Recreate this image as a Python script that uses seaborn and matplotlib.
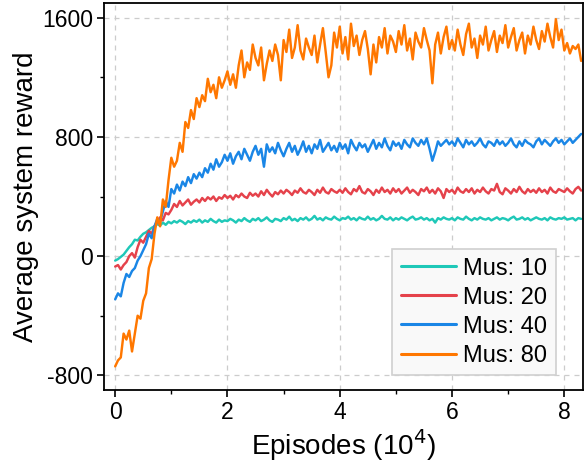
import matplotlib
matplotlib.use("Agg")
import matplotlib.pyplot as plt
import seaborn as sns
import numpy as np
import pandas as pd
from matplotlib.ticker import MultipleLocator

# episodes in units of 10^4, sampled every 0.05
episodes = np.round(np.arange(167) * 0.05, 2)

mus_10 = [
    -30, -20, -5, 10, 35, 60, 80, 110, 105, 130,
    150, 160, 175, 190, 200, 215, 205, 225, 210, 230,
    220, 235, 225, 240, 230, 215, 235, 225, 240, 230,
    245, 225, 240, 230, 250, 235, 225, 245, 230, 240,
    235, 250, 240, 225, 245, 235, 255, 240, 230, 250,
    240, 255, 235, 245, 260, 240, 230, 250, 245, 235,
    255, 245, 265, 240, 250, 235, 255, 245, 260, 240,
    250, 270, 245, 255, 240, 260, 250, 245, 265, 250,
    240, 255, 250, 265, 245, 255, 240, 260, 250, 245,
    265, 245, 255, 240, 250, 270, 250, 245, 260, 240,
    255, 245, 260, 250, 240, 255, 265, 245, 250, 260,
    245, 255, 240, 250, 225, 255, 245, 260, 250, 245,
    255, 240, 260, 250, 245, 265, 250, 240, 255, 245,
    260, 250, 245, 255, 240, 250, 260, 245, 255, 250,
    240, 255, 265, 245, 250, 260, 245, 255, 240, 250,
    260, 250, 245, 255, 240, 260, 250, 245, 255, 250,
    260, 245, 250, 255, 240, 255, 250,
]

mus_20 = [
    -70, -60, -90, -60, -40, 0, 20, -10, 60, 110,
    90, 130, 170, 150, 200, 230, 260, 240, 290, 280,
    310, 350, 330, 370, 340, 360, 380, 345, 365, 380,
    360, 390, 370, 395, 380, 400, 370, 395, 385, 410,
    390, 405, 380, 410, 395, 420, 400, 390, 425, 405,
    420, 400, 435, 410, 445, 420, 400, 430, 415, 440,
    420, 445, 430, 410, 440, 425, 455, 430, 420, 445,
    430, 410, 445, 425, 460, 430, 420, 450, 435, 425,
    445, 425, 455, 430, 415, 450, 435, 470, 430, 420,
    450, 435, 410, 445, 425, 460, 430, 445, 420, 455,
    430, 450, 420, 440, 460, 425, 445, 430, 410, 450,
    435, 460, 425, 445, 420, 455, 435, 390, 450, 430,
    445, 420, 460, 435, 425, 450, 430, 455, 420, 445,
    430, 460, 435, 420, 450, 440, 485, 430, 415, 455,
    440, 420, 450, 430, 465, 435, 420, 450, 430, 445,
    425, 455, 430, 445, 420, 460, 435, 425, 450, 440,
    430, 455, 435, 420, 450, 465, 440,
]

mus_40 = [
    -290, -250, -270, -180, -120, -140, -100, -80, -30, 0,
    40, 80, 150, 120, 200, 250, 230, 300, 370, 330,
    450, 420, 480, 440, 500, 470, 530, 490, 550, 520,
    560, 530, 590, 560, 620, 580, 650, 600, 630, 680,
    640, 690, 620, 670, 700, 650, 720, 680, 640, 700,
    740, 680, 720, 600, 750, 700, 730, 690, 760, 710,
    670, 720, 760, 700, 740, 680, 720, 770, 700, 740,
    690, 750, 720, 780, 700, 730, 760, 710, 740, 700,
    760, 720, 750, 690, 780, 740, 710, 760, 730, 750,
    700, 740, 780, 720, 760, 730, 790, 740, 710, 770,
    740, 760, 720, 780, 750, 730, 790, 760, 740, 780,
    750, 790, 720, 640, 700, 770, 740, 760, 780, 750,
    770, 740, 790, 760, 730, 780, 750, 770, 740, 760,
    790, 750, 730, 770, 760, 740, 780, 750, 770, 740,
    760, 790, 750, 730, 770, 740, 780, 760, 750, 730,
    770, 790, 750, 780, 760, 740, 770, 790, 760, 780,
    750, 770, 790, 760, 780, 800, 820,
]

mus_80 = [
    -740, -700, -680, -520, -560, -500, -640, -520, -400, -420,
    -300, -250, -80, -20, 150, 260, 200, 380, 330, 510,
    660, 600, 640, 760, 700, 900, 860, 980, 920, 1060,
    1000, 1080, 1040, 1190, 1100, 1150, 1060, 1200, 1130, 1180,
    1240, 1150, 1220, 1130, 1280, 1380, 1200, 1300, 1250, 1420,
    1330, 1280, 1400, 1180, 1290, 1380, 1310, 1420, 1350, 1180,
    1450, 1370, 1520, 1330, 1400, 1550, 1380, 1320, 1460, 1400,
    1350, 1480, 1300, 1420, 1530, 1370, 1200, 1280, 1500, 1400,
    1540, 1360, 1470, 1320, 1560, 1410, 1480, 1350, 1450, 1510,
    1390, 1220, 1420, 1300, 1470, 1400, 1530, 1360, 1480, 1440,
    1370, 1510, 1420, 1550, 1380, 1460, 1320, 1500, 1440, 1400,
    1530, 1450, 1380, 1160, 1420, 1500, 1360, 1470, 1540, 1390,
    1450, 1380, 1520, 1420, 1350, 1490, 1560, 1400, 1460, 1330,
    1480, 1420, 1540, 1380, 1450, 1510, 1370, 1480, 1430, 1550,
    1400, 1470, 1530, 1380, 1450, 1500, 1360, 1480, 1420, 1540,
    1450, 1390, 1510, 1440, 1560, 1470, 1400, 1590, 1450, 1520,
    1380, 1430, 1360, 1410, 1390, 1420, 1310,
]

labels = ["Mus: 10", "Mus: 20", "Mus: 40", "Mus: 80"]
colors = ["#1fc8b8", "#e5424b", "#1a86e6", "#ff7700"]

df = pd.concat([
    pd.DataFrame({"episode": episodes, "reward": vals, "setting": lab})
    for vals, lab in zip([mus_10, mus_20, mus_40, mus_80], labels)
])

sns.set_theme(style="ticks")
plt.rcParams["font.family"] = ["Liberation Sans", "DejaVu Sans"]
plt.rcParams["axes.unicode_minus"] = False
plt.rcParams["text.color"] = "black"
plt.rcParams["axes.labelcolor"] = "black"
plt.rcParams["xtick.color"] = "black"
plt.rcParams["ytick.color"] = "black"

fig, ax = plt.subplots(figsize=(5.84, 4.69), dpi=100)
fig.subplots_adjust(left=0.178, right=0.998, top=0.994, bottom=0.168)

sns.lineplot(data=df, x="episode", y="reward", hue="setting",
             palette=colors, linewidth=1.75, ax=ax)

ax.set_xlim(-0.2, 8.33)
ax.set_ylim(-900, 1700)
ax.set_xticks([0, 2, 4, 6, 8])
ax.set_yticks([-800, 0, 800, 1600])
ax.xaxis.set_minor_locator(MultipleLocator(1))
ax.yaxis.set_minor_locator(MultipleLocator(400))
ax.tick_params(axis="both", which="major", labelsize=16.5, length=5,
               width=1.2, direction="out", colors="black", pad=3)
ax.tick_params(axis="both", which="minor", length=3, width=1.0,
               direction="out", colors="black")
ax.grid(True, which="major", linestyle=(0, (4, 4)), color="#cccccc",
        linewidth=0.9)

for sp in ax.spines.values():
    sp.set_visible(True)
    sp.set_color("black")
    sp.set_linewidth(1.3)

ax.set_xlabel("Episodes (10$^{4}$)", fontsize=20, labelpad=2, color="black")
ax.set_ylabel("Average system reward", fontsize=20, labelpad=2, color="black")

leg = ax.legend(loc="lower right", bbox_to_anchor=(0.943, 0.039),
                borderaxespad=0, fontsize=17, frameon=True, fancybox=False,
                handlelength=2.35, handletextpad=0.3, labelspacing=0.3,
                borderpad=0.35)
leg.get_frame().set_edgecolor("#d0d0d0")
leg.get_frame().set_facecolor("#f9f9f9")
leg.get_frame().set_alpha(1)
leg.get_frame().set_linewidth(1.2)
for line in leg.get_lines():
    line.set_linewidth(2.2)
for txt in leg.get_texts():
    txt.set_color("black")

fig.savefig("out.png", dpi=100)
